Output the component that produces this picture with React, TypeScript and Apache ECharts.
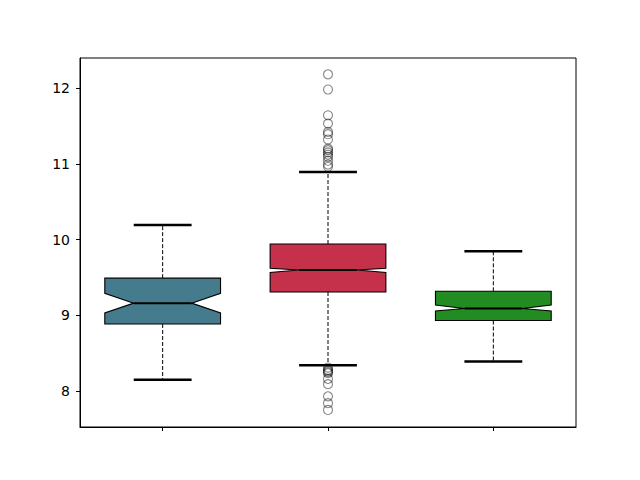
import React, { useEffect, useRef } from "react";
import * as echarts from "echarts";

const categories = ["A", "B", "C"];
const colors = ["#447b8d", "#c5304a", "#228b22"];
const whiskerLow = [8.15, 8.34, 8.39];
const q1 = [8.885, 9.307, 8.93];
const notchLow = [9.03, 9.565, 9.056];
const median = [9.16, 9.597, 9.09];
const notchHigh = [9.29, 9.62, 9.135];
const q3 = [9.49, 9.94, 9.316];
const whiskerHigh = [10.19, 10.89, 9.845];
const outliersA: number[] = [];
const outliersB = [
  12.18, 11.98, 11.64, 11.53, 11.42, 11.39, 11.32, 11.2, 11.18, 11.15, 11.12, 11.09, 11.04, 10.99, 10.96,
  8.31, 8.28, 8.265, 8.25, 8.235, 8.16, 8.09, 7.93, 7.84, 7.75,
];
const outliersC: number[] = [];
const yTicks = [8, 9, 10, 11, 12];

export default function App() {
  const ref = useRef<HTMLDivElement>(null);
  useEffect(() => {
    const chart = echarts.init(ref.current!, null, { renderer: "svg" });
    const boxData = categories.map((_, i) => [
      i, whiskerLow[i], q1[i], notchLow[i], median[i], notchHigh[i], q3[i], whiskerHigh[i],
    ]);
    const outlierData: number[][] = [];
    [outliersA, outliersB, outliersC].forEach((arr, i) => arr.forEach((v) => outlierData.push([i, v])));

    chart.setOption({
      animation: false,
      grid: {
        left: 80, right: 64, top: 58, bottom: 53,
        show: true, borderColor: "#000", borderWidth: 1,
      },
      xAxis: {
        type: "category",
        data: categories,
        boundaryGap: true,
        axisLine: { show: true, onZero: false, lineStyle: { color: "#000", width: 1 } },
        axisTick: { show: true, alignWithLabel: true, length: 4, lineStyle: { color: "#000" } },
        axisLabel: { show: false },
        splitLine: { show: false },
      },
      yAxis: {
        type: "value",
        min: 7.525,
        max: 12.396,
        axisLine: { show: true, lineStyle: { color: "#000", width: 1 } },
        axisTick: { show: true, length: 4, customValues: yTicks, lineStyle: { color: "#000" } },
        axisLabel: {
          customValues: yTicks,
          color: "#000",
          fontSize: 14,
          fontFamily: "DejaVu Sans",
          margin: 10,
        },
        splitLine: { show: false },
      },
      series: [
        {
          type: "custom",
          data: boxData,
          renderItem: (params: any, api: any) => {
            const idx = api.value(0);
            const band = api.size([1, 0])[0];
            const half = band * 0.35;
            const nh = half * 0.5;
            const capH = half * 0.5;
            const cx = api.coord([idx, api.value(4)])[0];
            const y = (k: number) => api.coord([idx, api.value(k)])[1];
            const yWL = y(1), yQ1 = y(2), yNL = y(3), yMed = y(4), yNH = y(5), yQ3 = y(6), yWH = y(7);
            const L = cx - half, R = cx + half;
            const i = params.dataIndex;
            return {
              type: "group",
              children: [
                { type: "line", shape: { x1: cx, y1: yQ1, x2: cx, y2: yWL }, style: { stroke: "#000", lineWidth: 1, lineDash: [4, 2] } },
                { type: "line", shape: { x1: cx, y1: yQ3, x2: cx, y2: yWH }, style: { stroke: "#000", lineWidth: 1, lineDash: [4, 2] } },
                { type: "line", shape: { x1: cx - capH, y1: yWL, x2: cx + capH, y2: yWL }, style: { stroke: "#000", lineWidth: 2.5 } },
                { type: "line", shape: { x1: cx - capH, y1: yWH, x2: cx + capH, y2: yWH }, style: { stroke: "#000", lineWidth: 2.5 } },
                {
                  type: "polygon",
                  shape: {
                    points: [
                      [L, yQ1], [R, yQ1], [R, yNL], [cx + nh, yMed], [R, yNH], [R, yQ3],
                      [L, yQ3], [L, yNH], [cx - nh, yMed], [L, yNL],
                    ],
                  },
                  style: { fill: colors[i], stroke: "#000", lineWidth: 1.1 },
                },
                { type: "line", shape: { x1: cx - nh, y1: yMed, x2: cx + nh, y2: yMed }, style: { stroke: "#000", lineWidth: 2 } },
              ],
            };
          },
          z: 2,
        },
        {
          type: "scatter",
          data: outlierData,
          symbol: "circle",
          symbolSize: 9,
          itemStyle: { color: "rgba(0,0,0,0)", borderColor: "rgba(0,0,0,0.6)", borderWidth: 1.1 },
          z: 3,
        },
      ],
    });
    return () => chart.dispose();
  }, []);
  return <div ref={ref} style={{ width: 640, height: 480, position: "absolute", left: 0, top: 0 }} />;
}
